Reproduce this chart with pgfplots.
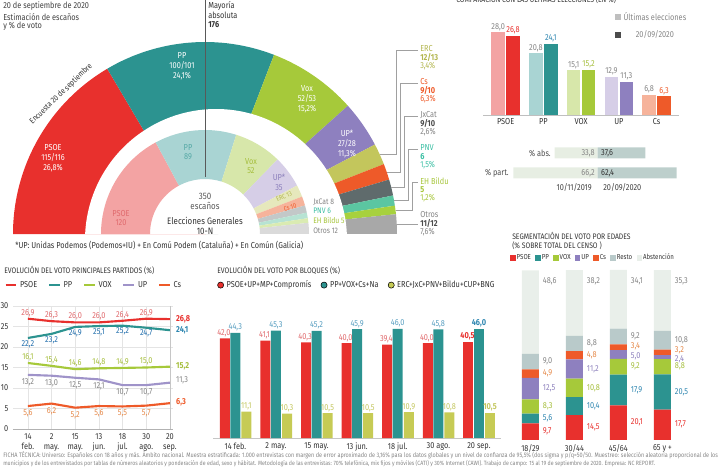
\documentclass[border=0pt]{standalone}
\usepackage{graphicx}
\usepackage{pgfplots}
\pgfplotsset{compat=1.18}
\usepackage{pgfplotstable}
\usepackage{fontspec}
\setmainfont[FakeStretch=0.85]{Fira Sans}

\definecolor{cpsoe}{HTML}{E8302D}
\definecolor{cpp}{HTML}{2C9390}
\definecolor{cvox}{HTML}{A6C93A}
\definecolor{cup}{HTML}{8E80BF}
\definecolor{cerc}{HTML}{C3C65C}
\definecolor{ccs}{HTML}{EE5A29}
\definecolor{cjx}{HTML}{5F6B6C}
\definecolor{cpnv}{HTML}{5BC6A1}
\definecolor{cbildu}{HTML}{A7D13E}
\definecolor{cotros}{HTML}{A8A8A8}
\definecolor{lpsoe}{HTML}{F3A3A3}
\definecolor{lpp}{HTML}{A9D4D3}
\definecolor{lvox}{HTML}{D7E7AA}
\definecolor{lup}{HTML}{D6CEE7}
\definecolor{lerc}{HTML}{E6E8BC}
\definecolor{lcs}{HTML}{F6B39B}
\definecolor{ljx}{HTML}{C3C8C8}
\definecolor{lpnv}{HTML}{B7E3D3}
\definecolor{lbildu}{HTML}{DAEBB2}
\definecolor{lotros}{HTML}{DADADA}
\definecolor{txt}{HTML}{333333}
\definecolor{gtxt}{HTML}{858585}
\definecolor{gridc}{HTML}{E4E4E4}
\definecolor{cresto}{HTML}{B9CACA}
\definecolor{cabst}{HTML}{E9EFEA}
\definecolor{colive}{HTML}{C6CB55}
\definecolor{tpsoe}{HTML}{E06A6D}
\definecolor{tpp}{HTML}{2E86B0}
\definecolor{tvox}{HTML}{A5BE3C}
\definecolor{tup}{HTML}{8C80BC}
\definecolor{tcs}{HTML}{E5894A}
\definecolor{tolive}{HTML}{C3C65E}
\definecolor{tpnv}{HTML}{3CBFA4}
\definecolor{tbildu}{HTML}{A6C53A}
\definecolor{terc}{HTML}{B3B650}
\definecolor{absl}{HTML}{E7EEE3}
\definecolor{absd}{HTML}{BDCFCC}
\definecolor{leader}{HTML}{A0A0A0}

\newcommand\fs{\fontsize{6.5}{7.3}\selectfont}
\newcommand\fsm{\fontsize{6}{7}\selectfont}
\newcommand\fst{\fontsize{5.4}{6.2}\selectfont}
\newcommand\fsx{\fontsize{5}{6}\selectfont}

\pgfplotsset{/pgf/number format/.cd, use comma, fixed, fixed zerofill, precision=1, assume math mode=true}
\tikzset{lab/.style={font=\fs, text=txt, inner sep=0pt}}

% Evolution of vote, main parties (%)
\pgfplotstableread{
x psoe pp vox up cs
0 26.9 22.2 16.1 13.2 5.6
1 26.3 23.2 15.4 13.0 6.2
2 26.0 24.9 14.6 12.5 5.2
3 26.0 25.1 14.8 12.1 5.6
4 26.4 25.2 14.9 10.7 5.5
5 26.9 24.7 15.0 10.7 5.7
6 26.8 24.1 15.2 11.3 6.3
}\evol
% Blocks
\pgfplotstableread{
x izq der nac
0 42.0 44.3 11.1
1 41.1 45.3 10.3
2 40.3 45.2 10.5
3 40.0 45.9 10.5
4 39.4 46.0 10.9
5 40.0 45.8 10.8
6 40.5 46.0 10.5
}\bloques
% Age segmentation
\pgfplotstableread{
x psoe pp vox up cs resto abst
0 9.7 5.6 8.3 12.5 4.9 9.0 48.6
1 14.5 10.4 10.8 11.2 4.8 8.8 38.2
2 20.1 17.9 9.2 5.0 3.4 9.2 34.1
3 17.7 20.5 8.8 2.4 3.2 10.8 35.3
}\edades

\begin{document}
\begin{tikzpicture}[x=0.75pt,y=0.75pt]
% ================= overlay axis (pixel coordinates, y down) =================
\begin{axis}[at={(0pt,0pt)}, anchor=south west, x=0.75pt, y=0.75pt, y dir=reverse,
  xmin=0, xmax=728, ymin=0, ymax=471, hide axis, clip=false]
  % outer ring: survey seats
  \xdef\astart{180}
  \foreach \seat/\col in {115.5/cpsoe,100.5/cpp,52.5/cvox,27.5/cup,12.5/cerc,9.5/ccs,9.5/cjx,6/cpnv,5/cbildu,11.5/cotros}{
    \pgfmathsetmacro\aend{\astart-\seat/350*180}
    \edef\temp{\noexpand\fill[\col] (axis cs:205,234) -- ++(\astart:144pt) arc[start angle=\astart,end angle=\aend,radius=144pt] -- cycle;}
    \temp
    \xdef\astart{\aend}
  }
  \fill[white] (axis cs:216,240) ++(2.6:98.25pt) arc[start angle=2.6,end angle=177.4,radius=98.25pt] -- cycle;
  % inner ring: 10-N seats
  \xdef\astart{180}
  \foreach \seat/\col in {120/lpsoe,89/lpp,52/lvox,35/lup,13/lerc,10/lcs,8/ljx,6/lpnv,5/lbildu,12/lotros}{
    \pgfmathsetmacro\aend{\astart-\seat/350*180}
    \pgfmathsetmacro\aback{\aend+180}
    \edef\temp{\noexpand\fill[\col] (axis cs:205,234) ++(\astart:78pt) arc[start angle=\astart,end angle=\aend,radius=78pt] -- ++(\aback:36.75pt) arc[start angle=\aend,end angle=\astart,radius=41.25pt] -- cycle;}
    \temp
    \xdef\astart{\aend}
  }
  \draw[draw=black!65, line width=0.5pt] (axis cs:205,0) -- (axis cs:205,177);
  % leader lines
  \draw[leader, line width=0.45pt] (418,50) -- (396,50) -- (396,154) -- (380,154);
  \draw[leader, line width=0.45pt] (418,83) -- (400,83) -- (400,172) -- (387,172);
  \draw[leader, line width=0.45pt] (418,116) -- (404,116) -- (404,187) -- (391,187);
  \draw[leader, line width=0.45pt] (418,149) -- (408,149) -- (408,200) -- (394,200);
  \draw[leader, line width=0.45pt] (418,182) -- (412,182) -- (412,210) -- (396,210);
  \draw[leader, line width=0.45pt] (418,224) -- (397,224);
  % texts hemicycle
  \node[lab, anchor=west, text=black!75] at (3,6) {20 de septiembre de 2020};
  \node[lab, anchor=west, text=black!75] at (3,17) {Estimación de escaños};
  \node[lab, anchor=west, text=black!75] at (3,26) {y \% de voto};
  \node[lab, anchor=west] at (208,6) {Mayoría};
  \node[lab, anchor=west] at (208,15) {absoluta};
  \node[lab, anchor=west, font=\fs\bfseries] at (208,25) {176};
  \node[lab, font=\fsm, rotate=44] at (61,94) {Encuesta 20 de septiembre};
  \node[lab, text=white, align=center] at (53,158) {PSOE\\115/116\\26,8\%};
  \node[lab, text=white, align=center] at (182,66) {PP\\100/101\\24,1\%};
  \node[lab, text=white, align=center] at (307,99) {Vox\\52/53\\15,2\%};
  \node[lab, text=white, align=center] at (347,144) {UP*\\27/28\\11,3\%};
  \node[lab, text=tpsoe, align=center] at (121,218) {PSOE\\120};
  \node[lab, text=cpp!80, align=center] at (188,152) {PP\\89};
  \node[lab, text=tvox, align=center] at (251,166) {Vox\\52};
  \node[lab, text=tup, align=center] at (279,182) {UP*\\35};
  \node[lab, font=\fsx, text=terc, rotate=24] at (284,196.5) {ERC 13};
  \node[lab, font=\fsx, text=ccs, rotate=17] at (290,207.5) {Cs 10};
  \node[lab, anchor=west, font=\fsm, text=gtxt] at (313,202) {JxCat 8};
  \node[lab, anchor=west, font=\fsm, text=tpnv] at (313,211) {PNV 6};
  \node[lab, anchor=west, font=\fsm, text=tbildu] at (313,220) {EH Bildu 5};
  \node[lab, anchor=west, font=\fsm, text=gtxt] at (313,231) {Otros 12};
  \node[lab, align=center, text=black!65, font=\fontsize{7}{7.5}\selectfont] at (205,201) {350\\escaños};
  \node[lab, align=center, font=\fontsize{7}{7}\selectfont] at (205,226) {Elecciones Generales\\10-N};
  \node[lab, anchor=west] at (15,245) {*UP: Unidas Podemos (Podemos+IU) + En Comú Podem (Cataluña) + En Común (Galicia)};
  % right column labels
  \node[lab, anchor=west, text=terc] at (420,49) {ERC};
  \node[lab, anchor=west, text=terc, font=\fs\bfseries] at (420,57.5) {12/13};
  \node[lab, anchor=west, text=terc] at (420,66) {3,4\%};
  \node[lab, anchor=west, text=ccs] at (420,82) {Cs};
  \node[lab, anchor=west, text=ccs, font=\fs\bfseries] at (420,90.5) {9/10};
  \node[lab, anchor=west, text=ccs] at (420,99) {6,3\%};
  \node[lab, anchor=west, text=gtxt] at (420,115) {JxCat};
  \node[lab, anchor=west, text=black!70, font=\fs\bfseries] at (420,123.5) {9/10};
  \node[lab, anchor=west, text=gtxt] at (420,132) {2,6\%};
  \node[lab, anchor=west, text=tpnv] at (420,148) {PNV};
  \node[lab, anchor=west, text=tpnv, font=\fs\bfseries] at (420,156.5) {6};
  \node[lab, anchor=west, text=tpnv] at (420,165) {1,5\%};
  \node[lab, anchor=west, text=tbildu] at (420,181) {EH Bildu};
  \node[lab, anchor=west, text=tbildu, font=\fs\bfseries] at (420,189.5) {5};
  \node[lab, anchor=west, text=tbildu] at (420,198) {1,2\%};
  \node[lab, anchor=west, text=gtxt] at (420,215) {Otros};
  \node[lab, anchor=west, text=black!70, font=\fs\bfseries] at (420,223.5) {11/12};
  \node[lab, anchor=west, text=gtxt] at (420,232) {7,6\%};
  % top-right title (cut by the frame, as in the source)
  \node[lab, anchor=west, font=\fsm] at (456,-1) {COMPARACIÓN CON LAS ÚLTIMAS ELECCIONES (EN \%)};
  % abs / part texts
  \node[lab, anchor=east, text=black!70] at (551,153) {\% abs.};
  \node[lab, anchor=east, text=black!70] at (509,173) {\% part.};
  \node[lab, anchor=east, text=black!75] at (592,187) {10/11/2019};
  \node[lab, anchor=west, text=black!75] at (603,187) {20/09/2020};
  % chart titles
  \node[lab, anchor=west, font=\fsm] at (4,270) {EVOLUCIÓN DEL VOTO PRINCIPALES PARTIDOS (\%)};
  \node[lab, anchor=west, font=\fsm] at (217,270) {EVOLUCIÓN DEL VOTO POR BLOQUES (\%)};
  \node[lab, anchor=west, font=\fsm] at (512,236) {SEGMENTACIÓN DEL VOTO POR EDADES};
  \node[lab, anchor=west, font=\fsm] at (512,246) {(\% SOBRE TOTAL DEL CENSO )};
  % footer
  \node[lab, anchor=west, text=gtxt] at (3,455) {\resizebox{536pt}{!}{\fontsize{4.3}{5}\selectfont FICHA TÉCNICA: Universo: Españoles con 18 años y más. Ámbito nacional. Muestra estratificada: 1.000 entrevistas con margen de error aproximado de 3,16\% para los datos globales y un nivel de confianza de 95,5\% (dos sigma y p/q=50/50. Muestreo: selección aleatoria proporcional de los}};
  \node[lab, anchor=west, text=gtxt] at (3,464) {\resizebox{489pt}{!}{\fontsize{4.3}{5}\selectfont municipios y de los entrevistados por tablas de números aleatorios y ponderación de edad, sexo y hábitat. Metodología de las entrevistas: 70\% telefónica, mix fijos y móviles (CATI) y 30\% Internet (CAWI). Trabajo de campo: 15 al 19 de septiembre de 2020. Empresa: NC REPORT.}};
\end{axis}

% ================= A: comparison bars =================
\begin{axis}[at={(362.25pt,267pt)}, anchor=south west, x=28.31pt, y=2.22pt,
  xmin=-0.6, xmax=4.6, ymin=0, ymax=30, clip=false,
  axis y line=none, axis x line*=bottom, x axis line style={draw=gray!50, line width=0.5pt, -},
  xtick={0,...,4}, xticklabels={PSOE,PP,VOX,UP,Cs}, xtick style={draw=none},
  xticklabel style={font=\fs, text=txt, yshift=1pt},
  every node near coord/.append style={font=\fs, inner sep=1pt},
  legend style={draw=none, fill=none, font=\fs, text=gtxt, at={(0.67,1.19)}, anchor=north west, inner sep=0pt, row sep=2pt},
  legend image code/.code={\fill[#1] (0pt,-2.3pt) rectangle (4.6pt,2.3pt);}]
  \addlegendimage{fill=black!25, draw=none}\addlegendentry{Últimas elecciones}
  \addlegendimage{fill=black!70, draw=none}\addlegendentry{20/09/2020}
  \pgfplotsset{lt/.style={ybar, bar width=10.1pt, bar shift=-5.6pt, draw=none, nodes near coords, every node near coord/.append style={xshift=-5.6pt, text=gtxt}},
               dk/.style={ybar, bar width=10.1pt, bar shift=5.6pt, draw=none, nodes near coords, every node near coord/.append style={xshift=5.6pt, text=#1}}}
  \addplot[lt, fill=lpsoe] coordinates {(0,28.0)};
  \addplot[dk=cpsoe, fill=cpsoe] coordinates {(0,26.8)};
  \addplot[lt, fill=lpp] coordinates {(1,20.8)};
  \addplot[dk=tpp, fill=cpp] coordinates {(1,24.1)};
  \addplot[lt, fill=lvox] coordinates {(2,15.1)};
  \addplot[dk=tvox, fill=cvox] coordinates {(2,15.2)};
  \addplot[lt, fill=lup] coordinates {(3,12.9)};
  \addplot[dk=gtxt, fill=cup] coordinates {(3,11.3)};
  \addplot[lt, fill=lcs] coordinates {(4,6.8)};
  \addplot[dk=ccs, fill=ccs] coordinates {(4,6.3)};
\end{axis}

% ================= B: abstention / participation =================
\begin{axis}[at={(381.45pt,216pt)}, anchor=south west, x=0.9525pt, y=15pt,
  xmin=-70, xmax=70, ymin=-0.5, ymax=1.5, hide axis, clip=false]
  \addplot[xbar, bar width=8.25pt, bar shift=0pt, fill=absl, draw=none] coordinates {(-33.8,1) (-66.2,0)};
  \addplot[xbar, bar width=8.25pt, bar shift=0pt, fill=absd, draw=none] coordinates {(37.6,1) (62.4,0)};
  \node[lab, anchor=east, text=gtxt] at (axis cs:-2,1) {33,8};
  \node[lab, anchor=west, text=txt] at (axis cs:2.7,1) {37,6};
  \node[lab, anchor=east, text=gtxt] at (axis cs:-2,0) {66,2};
  \node[lab, anchor=west, text=txt] at (axis cs:2.7,0) {62,4};
\end{axis}

% ================= C: evolution lines =================
\begin{axis}[at={(9.75pt,31.5pt)}, anchor=south west, x=17.75pt, y=3.075pt,
  xmin=-0.63, xmax=6.13, ymin=0, ymax=30, clip=false,
  axis line style={draw=none}, tick style={draw=none},
  xmajorgrids, ymajorgrids, grid style={line width=0.4pt, draw=gridc},
  xtick={0,...,6}, xticklabels={14\\feb., 2\\may., 15\\may., 13\\jun., 18\\jul., 30\\ago., 20\\sep.},
  xticklabel style={align=center, font=\fs, text=txt},
  ytick={0,5,...,30}, yticklabels={0,5,10,15,20,25,30},
  yticklabel style={font=\fs, text=txt},
  extra y ticks={0}, extra y tick labels={}, extra y tick style={grid style={draw=gray!60, line width=0.5pt}},
  extra x ticks={6}, extra x tick labels={}, extra x tick style={grid style={draw=gray!45, line width=0.5pt}},
  every node near coord/.append style={font=\fs, inner sep=1.5pt},
  legend columns=5,
  legend style={draw=none, fill=none, font=\fs, text=txt, at={(-0.056,1.17)}, anchor=west, inner sep=0pt,
    /tikz/every even column/.append style={column sep=6pt}},
  legend image code/.code={\draw[#1, line width=1.8pt] (0pt,0pt) -- (8pt,0pt);}]
  \addplot[cpsoe, line width=1.6pt, mark=none] table[x=x,y=psoe]{\evol}; \addlegendentry{PSOE}
  \addplot[cpp, line width=1.6pt, mark=none] table[x=x,y=pp]{\evol}; \addlegendentry{PP}
  \addplot[cvox, line width=1.6pt, mark=none] table[x=x,y=vox]{\evol}; \addlegendentry{VOX}
  \addplot[cup!85, line width=1.6pt, mark=none] table[x=x,y=up]{\evol}; \addlegendentry{UP}
  \addplot[ccs, line width=1.6pt, mark=none] table[x=x,y=cs]{\evol}; \addlegendentry{Cs}
  % labels
  \addplot[draw=none, mark=none, forget plot, restrict x to domain=0:5.5, nodes near coords, every node near coord/.append style={anchor=south, text=tpsoe}] table[x=x,y=psoe]{\evol};
  \addplot[draw=none, mark=none, forget plot, restrict x to domain=0:5.5, nodes near coords, every node near coord/.append style={anchor=north, text=cpp!75!blue}] table[x=x,y=pp]{\evol};
  \addplot[draw=none, mark=none, forget plot, restrict x to domain=0:5.5, nodes near coords, every node near coord/.append style={anchor=south, text=tvox}] table[x=x,y=vox]{\evol};
  \addplot[draw=none, mark=none, forget plot, restrict x to domain=0:5.5, nodes near coords, every node near coord/.append style={anchor=north, inner sep=2.5pt, text=gtxt}] table[x=x,y=up]{\evol};
  \addplot[draw=none, mark=none, forget plot, restrict x to domain=0:5.5, nodes near coords, every node near coord/.append style={anchor=north, inner sep=2.5pt, text=tcs}] table[x=x,y=cs]{\evol};
  \addplot[draw=none, mark=none, forget plot, restrict x to domain=5.5:7, nodes near coords, every node near coord/.append style={anchor=west, xshift=3pt, font=\fs\bfseries, text=cpsoe}] table[x=x,y=psoe]{\evol};
  \addplot[draw=none, mark=none, forget plot, restrict x to domain=5.5:7, nodes near coords, every node near coord/.append style={anchor=west, xshift=3pt, font=\fs\bfseries, text=tpp}] table[x=x,y=pp]{\evol};
  \addplot[draw=none, mark=none, forget plot, restrict x to domain=5.5:7, nodes near coords, every node near coord/.append style={anchor=west, xshift=3pt, font=\fs\bfseries, text=tvox}] table[x=x,y=vox]{\evol};
  \addplot[draw=none, mark=none, forget plot, restrict x to domain=5.5:7, nodes near coords, every node near coord/.append style={anchor=west, xshift=3pt, yshift=2pt, text=gtxt}] table[x=x,y=up]{\evol};
  \addplot[draw=none, mark=none, forget plot, restrict x to domain=5.5:7, nodes near coords, every node near coord/.append style={anchor=west, xshift=3pt, yshift=1pt, font=\fs\bfseries, text=ccs}] table[x=x,y=cs]{\evol};
\end{axis}

% ================= D: blocks =================
\begin{axis}[at={(159.75pt,24.75pt)}, anchor=south west, x=30.45pt, y=1.778pt,
  xmin=-0.55, xmax=6.55, ymin=0, ymax=50, clip=false,
  axis y line=none, axis x line*=bottom, x axis line style={draw=gray!45, line width=0.5pt, -},
  xtick={0,...,6}, xtick style={draw=none},
  xticklabels={14 feb., 2 may., 15 may., 13 jun., 18 jul., 30 ago., 20 sep.},
  xticklabel style={font=\fs, text=txt},
  every node near coord/.append style={font=\fs, inner sep=1pt},
  legend columns=3,
  legend style={draw=none, fill=none, font=\fs, text=txt, at={(0.014,1.29)}, anchor=west, inner sep=0pt,
    /tikz/every even column/.append style={column sep=5pt}},
  legend image code/.code={\fill[#1] (2.3pt,0pt) circle[radius=2.3pt];}]
  \addlegendimage{fill=cpsoe}\addlegendentry{PSOE+UP+MP+Compromís}
  \addlegendimage{fill=cpp}\addlegendentry{PP+VOX+Cs+Na}
  \addlegendimage{fill=colive}\addlegendentry{ERC+JxC+PNV+Bildu+CUP+BNG}
  \pgfplotsset{rb/.style={ybar, bar width=7.5pt, bar shift=-7.9pt, fill=cpsoe, draw=none, nodes near coords, every node near coord/.append style={xshift=-8.6pt}},
               tb/.style={ybar, bar width=7.5pt, bar shift=0pt, fill=cpp, draw=none, nodes near coords},
               ob/.style={ybar, bar width=7.5pt, bar shift=8.3pt, fill=colive, draw=none, nodes near coords, every node near coord/.append style={xshift=8.3pt}}}
  \addplot[rb, restrict x to domain=0:5.5, every node near coord/.append style={text=tpsoe}] table[x=x,y=izq]{\bloques};
  \addplot[tb, restrict x to domain=0:5.5, every node near coord/.append style={text=tpp!80}] table[x=x,y=der]{\bloques};
  \addplot[ob, restrict x to domain=0:5.5, every node near coord/.append style={text=tolive}] table[x=x,y=nac]{\bloques};
  \addplot[rb, restrict x to domain=5.5:7, every node near coord/.append style={text=cpsoe, font=\fs\bfseries}] table[x=x,y=izq]{\bloques};
  \addplot[tb, restrict x to domain=5.5:7, every node near coord/.append style={text=tpp, font=\fs\bfseries}] table[x=x,y=der]{\bloques};
  \addplot[ob, restrict x to domain=5.5:7, every node near coord/.append style={text=tolive, font=\fs\bfseries}] table[x=x,y=nac]{\bloques};
\end{axis}

% ================= E: age segmentation =================
\begin{axis}[at={(386.25pt,23.25pt)}, anchor=south west, x=33pt, y=1.29pt,
  xmin=-0.35, xmax=3.8, ymin=0, ymax=100, clip=false,
  ybar stacked, bar width=12.75pt,
  axis line style={draw=none}, tick style={draw=none}, ytick=\empty,
  xtick={0,...,3}, xticklabels={18/29,30/44,45/64,65 y +},
  xticklabel style={font=\fs, text=txt},
  legend columns=7,
  legend style={draw=none, fill=none, font=\fst, text=txt, at={(-0.027,1.058)}, anchor=west, inner sep=0pt,
    nodes={inner sep=0.8pt},
    /tikz/every even column/.append style={column sep=2.5pt}},
  legend image code/.code={\fill[#1] (0pt,-2pt) rectangle (4pt,2pt);}]
  \addplot[fill=cpsoe, draw=none] table[x=x,y=psoe]{\edades}; \addlegendentry{PSOE}
  \addplot[fill=cpp, draw=none] table[x=x,y=pp]{\edades}; \addlegendentry{PP}
  \addplot[fill=cvox, draw=none] table[x=x,y=vox]{\edades}; \addlegendentry{VOX}
  \addplot[fill=cup, draw=none] table[x=x,y=up]{\edades}; \addlegendentry{UP}
  \addplot[fill=ccs, draw=none] table[x=x,y=cs]{\edades}; \addlegendentry{Cs}
  \addplot[fill=cresto, draw=none] table[x=x,y=resto]{\edades}; \addlegendentry{Resto}
  \addplot[fill=cabst, draw=none] table[x=x,y=abst]{\edades}; \addlegendentry{Abstención}
  % labels
  \node[lab, anchor=west, text=cpsoe] at (axis cs:0.28,4.85) {9,7};
  \node[lab, anchor=west, text=tpp] at (axis cs:0.28,12.5) {5,6};
  \node[lab, anchor=west, text=tvox] at (axis cs:0.28,19.45) {8,3};
  \node[lab, anchor=west, text=tup] at (axis cs:0.28,29.85) {12,5};
  \node[lab, anchor=west, text=tcs] at (axis cs:0.28,38.55) {4,9};
  \node[lab, anchor=west, text=gtxt] at (axis cs:0.28,45.5) {9,0};
  \node[lab, anchor=west, text=gtxt] at (axis cs:0.28,92.5) {48,6};
  \node[lab, anchor=west, text=cpsoe] at (axis cs:1.28,7.25) {14,5};
  \node[lab, anchor=west, text=tpp] at (axis cs:1.28,19.7) {10,4};
  \node[lab, anchor=west, text=tvox] at (axis cs:1.28,30.3) {10,8};
  \node[lab, anchor=west, text=tup] at (axis cs:1.28,41.3) {11,2};
  \node[lab, anchor=west, text=tcs] at (axis cs:1.28,49.3) {4,8};
  \node[lab, anchor=west, text=gtxt] at (axis cs:1.28,56.1) {8,8};
  \node[lab, anchor=west, text=gtxt] at (axis cs:1.28,92.5) {38,2};
  \node[lab, anchor=west, text=cpsoe] at (axis cs:2.28,10.05) {20,1};
  \node[lab, anchor=west, text=tpp] at (axis cs:2.28,29.05) {17,9};
  \node[lab, anchor=west, text=tvox] at (axis cs:2.28,42.6) {9,2};
  \node[lab, anchor=west, text=tup] at (axis cs:2.28,48.6) {5,0};
  \node[lab, anchor=west, text=tcs] at (axis cs:2.28,54.3) {3,4};
  \node[lab, anchor=west, text=gtxt] at (axis cs:2.28,60.2) {9,2};
  \node[lab, anchor=west, text=gtxt] at (axis cs:2.28,92.5) {34,1};
  \node[lab, anchor=west, text=cpsoe] at (axis cs:3.28,8.85) {17,7};
  \node[lab, anchor=west, text=tpp] at (axis cs:3.28,27.95) {20,5};
  \node[lab, anchor=west, text=tvox] at (axis cs:3.28,42.6) {8,8};
  \node[lab, anchor=west, text=tup] at (axis cs:3.28,47.0) {2,4};
  \node[lab, anchor=west, text=tcs] at (axis cs:3.28,52.2) {3,2};
  \node[lab, anchor=west, text=gtxt] at (axis cs:3.28,58.0) {10,8};
  \node[lab, anchor=west, text=gtxt] at (axis cs:3.28,92.5) {35,3};
\end{axis}
\pgfresetboundingbox
\path[use as bounding box] (0pt,0pt) rectangle (546pt,353.25pt);
\end{tikzpicture}
\end{document}
